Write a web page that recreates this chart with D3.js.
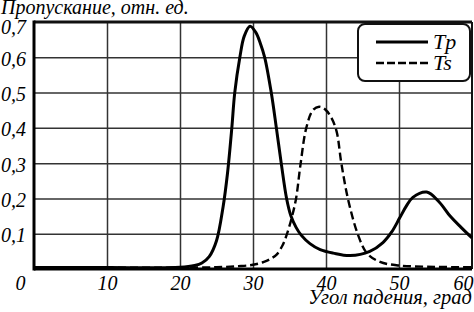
<!DOCTYPE html>
<html>
<head>
<meta charset="utf-8">
<script src="https://cdn.jsdelivr.net/npm/d3@7"></script>
<style>
  body { margin: 0; background: #fff; }
  svg { display: block; }
  text { font-family: "Liberation Serif", "Times New Roman", serif; font-style: italic; fill: #000; }
</style>
</head>
<body>
<svg id="chart" width="474" height="312"></svg>
<script>
// angle of incidence, degrees
const tpAngle = [0, 10, 20, 22, 23, 24, 25, 25.9, 26.5, 27.1, 27.5, 28.2, 28.8, 29.6, 30.4, 31, 31.6, 32.5,
    33.2, 33.9, 34.6, 35.2, 35.9, 36.6, 37.8, 39.2, 41, 43.3, 46, 47.8, 49, 50.1, 51, 51.9, 53.8,
    55.5, 57, 58.5, 60];
const tpValue = [0.004, 0.004, 0.005, 0.01, 0.017, 0.035, 0.08, 0.176, 0.27, 0.4, 0.5, 0.6, 0.66, 0.688, 0.67,
    0.64, 0.6, 0.5, 0.4, 0.295, 0.2, 0.15, 0.118, 0.096, 0.072, 0.055, 0.045, 0.038, 0.05, 0.075,
    0.105, 0.145, 0.178, 0.203, 0.218, 0.19, 0.15, 0.118, 0.088];

const tsAngle = [0, 10, 20, 25, 28, 30, 31.5, 32.5, 33.2, 34, 34.6, 35.3, 35.9, 36.5, 37.3, 38.2, 39.05,
    39.9, 40.7, 41.45, 42.1, 43.05, 44.4, 45.6, 47.4, 50, 55, 60];
const tsValue = [0.003, 0.004, 0.004, 0.005, 0.008, 0.012, 0.02, 0.03, 0.04, 0.065, 0.096, 0.145, 0.2,
    0.295, 0.4, 0.45, 0.46, 0.452, 0.43, 0.39, 0.3, 0.195, 0.096, 0.045, 0.02, 0.01, 0.006, 0.005];

const xTicks = [0, 10, 20, 30, 40, 50, 60];
const yTicks = [0.1, 0.2, 0.3, 0.4, 0.5, 0.6, 0.7];
const seriesNames = ["Tp", "Ts"];

const svg = d3.select("#chart");
const m = {left: 34, right: 472, top: 22, bottom: 269};

const x = d3.scaleLinear().domain([0, 60]).range([m.left, m.right]);
const y = d3.scaleLinear().domain([0, 0.7]).range([m.bottom, m.top]);

// grid
svg.append("g")
    .attr("transform", `translate(0,${m.bottom})`)
    .call(d3.axisBottom(x).tickValues(xTicks.slice(1, -1)).tickSize(-(m.bottom - m.top)).tickFormat(""))
    .call(g => g.select(".domain").remove())
    .call(g => g.selectAll("line").attr("stroke", "#333").attr("stroke-width", 1.5));

svg.append("g")
    .attr("transform", `translate(${m.left},0)`)
    .call(d3.axisLeft(y).tickValues(yTicks.slice(0, -1)).tickSize(-(m.right - m.left)).tickFormat(""))
    .call(g => g.select(".domain").remove())
    .call(g => g.selectAll("line").attr("stroke", "#333").attr("stroke-width", 1.5));

// frame
svg.append("line").attr("x1", m.left).attr("x2", m.right).attr("y1", m.top).attr("y2", m.top)
    .attr("stroke", "#111").attr("stroke-width", 3);
svg.append("line").attr("x1", m.right).attr("x2", m.right).attr("y1", m.top).attr("y2", m.bottom)
    .attr("stroke", "#111").attr("stroke-width", 2);
svg.append("line").attr("x1", m.left).attr("x2", m.left).attr("y1", m.top - 1.5).attr("y2", m.bottom + 1.5)
    .attr("stroke", "#000").attr("stroke-width", 3);
svg.append("line").attr("x1", m.left).attr("x2", m.right).attr("y1", m.bottom).attr("y2", m.bottom)
    .attr("stroke", "#000").attr("stroke-width", 3);

// tick labels
const xAxis = svg.append("g")
    .attr("transform", `translate(0,${m.bottom})`)
    .call(d3.axisBottom(x).tickValues(xTicks).tickSize(0).tickPadding(7).tickFormat(d3.format("d")))
    .call(g => g.select(".domain").remove())
    .attr("font-family", null).attr("font-size", 20);
xAxis.selectAll("text")
    .attr("fill", "#000")
    .attr("dx", d => d === 0 ? -14 : 0)
    .attr("text-anchor", d => d === 60 ? "end" : "middle")
    .attr("x", d => d === 60 ? 1 : 0);

const yAxis = svg.append("g")
    .attr("transform", `translate(${m.left},0)`)
    .call(d3.axisLeft(y).tickValues(yTicks).tickSize(0).tickPadding(8)
        .tickFormat(d => d3.format(".1f")(d).replace(".", ",")))
    .call(g => g.select(".domain").remove())
    .attr("font-family", null).attr("font-size", 20);
yAxis.selectAll("text")
    .attr("fill", "#000")
    .attr("dy", d => d === 0.7 ? "0.55em" : "0.4em");

// axis titles
svg.append("text").attr("x", 1).attr("y", 14).attr("font-size", 20)
    .text("Пропускание, отн. ед.");
svg.append("text").attr("x", m.right).attr("y", 304).attr("font-size", 20.5)
    .attr("text-anchor", "end")
    .text("Угол падения, град");

// curves
const line = d3.line()
    .x(d => x(d[0]))
    .y(d => y(d[1]))
    .curve(d3.curveCatmullRom.alpha(0.5));

svg.append("path")
    .datum(tsAngle.map((a, i) => [a, tsValue[i]]))
    .attr("d", line)
    .attr("fill", "none").attr("stroke", "#000").attr("stroke-width", 2.4)
    .attr("stroke-dasharray", "8,4");

svg.append("path")
    .datum(tpAngle.map((a, i) => [a, tpValue[i]]))
    .attr("d", line)
    .attr("fill", "none").attr("stroke", "#000").attr("stroke-width", 3);

// legend
const legend = svg.append("g");
legend.append("rect")
    .attr("x", 358).attr("y", 24).attr("width", 112).attr("height", 57).attr("rx", 7)
    .attr("fill", "#fff").attr("stroke", "#111").attr("stroke-width", 2);
seriesNames.forEach((name, i) => {
    const ly = 42 + i * 21;
    legend.append("line")
        .attr("x1", 376).attr("x2", 428).attr("y1", ly).attr("y2", ly)
        .attr("stroke", "#000").attr("stroke-width", i === 0 ? 3 : 2.4)
        .attr("stroke-dasharray", i === 0 ? null : "8,3");
    legend.append("text")
        .attr("x", 433).attr("y", ly + 7).attr("font-size", 22)
        .text(name);
});
</script>
</body>
</html>
